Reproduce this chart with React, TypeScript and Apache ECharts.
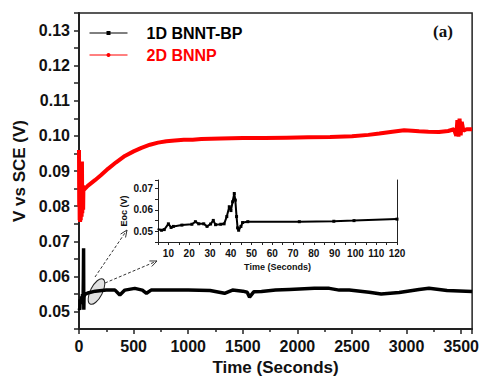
import React, { useEffect, useRef } from "react";
import * as echarts from "echarts";

// Main chart: 1D BNNT-BP (black)
const blackTimes = [0, 3, 6, 8, 10, 12, 15, 20, 23, 26, 29, 32, 35, 38, 40, 42, 43, 44, 46, 50, 80, 150, 250, 330, 374, 420, 511, 580, 618, 660, 800, 1000, 1200, 1333, 1406, 1500, 1540, 1562, 1600, 1671, 1800, 1927, 2155, 2292, 2383, 2475, 2657, 2767, 2932, 3114, 3205, 3370, 3600];
const blackValues = [0.051, 0.0508, 0.0505, 0.051, 0.0535, 0.0522, 0.0525, 0.053, 0.0543, 0.0535, 0.0524, 0.055, 0.053, 0.0545, 0.0595, 0.068, 0.057, 0.0505, 0.054, 0.0548, 0.0553, 0.0558, 0.0561, 0.0561, 0.0547, 0.0561, 0.0566, 0.0561, 0.0552, 0.0561, 0.0561, 0.0561, 0.056, 0.0552, 0.0561, 0.0558, 0.0555, 0.0541, 0.0556, 0.0557, 0.0561, 0.0563, 0.0566, 0.0566, 0.0561, 0.0561, 0.0555, 0.055, 0.0554, 0.0563, 0.0566, 0.056, 0.0557];

// Main chart: 2D BNNP (red)
const redTimes = [0, 2, 4, 6, 8, 10, 13, 16, 20, 24, 27, 30, 34, 38, 40, 80, 146, 200, 268, 340, 420, 500, 572, 650, 724, 800, 877, 960, 1041, 1120, 1300, 1500, 1700, 1900, 2100, 2300, 2500, 2650, 2750, 2870, 2977, 3050, 3114, 3200, 3297, 3380, 3434, 3455, 3465, 3475, 3485, 3495, 3505, 3520, 3550, 3600];
const redValues = [0.096, 0.08, 0.092, 0.076, 0.09, 0.0755, 0.088, 0.076, 0.092, 0.077, 0.0927, 0.078, 0.086, 0.079, 0.0845, 0.0858, 0.0874, 0.0888, 0.0907, 0.0925, 0.0943, 0.0956, 0.0966, 0.0975, 0.0981, 0.0985, 0.0987, 0.0989, 0.0989, 0.0991, 0.0993, 0.0994, 0.0994, 0.0995, 0.0996, 0.0997, 0.0999, 0.1003, 0.1007, 0.1012, 0.1016, 0.1015, 0.1013, 0.1012, 0.1011, 0.1014, 0.1019, 0.1, 0.1045, 0.0998, 0.1049, 0.1002, 0.104, 0.1015, 0.1019, 0.1019];

// Inset: first 120 seconds of 1D BNNT-BP
const insetTimes = [4.8, 6.7, 8, 10, 11.3, 12.4, 16.5, 21.3, 23, 24.6, 27, 28.6, 30.3, 31.6, 32.7, 35.2, 36.8, 38.1, 39.3, 40.1, 40.9, 41.7, 42.2, 42.8, 43.3, 43.8, 44.9, 45.7, 48.2, 73, 89.6, 99.3, 120];
const insetValues = [0.0511, 0.0505, 0.0508, 0.0535, 0.0518, 0.0523, 0.0529, 0.0533, 0.0545, 0.0535, 0.0535, 0.0523, 0.0534, 0.0551, 0.0531, 0.0533, 0.0535, 0.0569, 0.0615, 0.0597, 0.0638, 0.0677, 0.0646, 0.0569, 0.0516, 0.0505, 0.0523, 0.0541, 0.0545, 0.0545, 0.0547, 0.055, 0.0557];

const seriesNames = ["1D BNNT-BP", "2D BNNP"];
const seriesColors = ["#000000", "#ff0000"];

const FONT = "'Liberation Sans', Arial, sans-serif";

const zip = (xs: number[], ys: number[]) => xs.map((x, i) => [x, ys[i]]);

export default function App() {
  const ref = useRef<HTMLDivElement>(null);
  useEffect(() => {
    if (!ref.current) return;
    const chart = echarts.init(ref.current, undefined, { renderer: "svg" });
    const bold = { fontFamily: FONT, fontWeight: "bold" as const, color: "#111" };
    chart.setOption({
      animation: false,
      backgroundColor: "#fff",
      grid: [
        { left: 79, right: 9, top: 13, bottom: 49, show: true, borderColor: "#222", borderWidth: 1.5, backgroundColor: "transparent" },
        { left: 158, top: 180, width: 239, height: 62 },
      ],
      legend: {
        orient: "vertical",
        left: 84,
        top: 20,
        itemWidth: 38,
        itemHeight: 5,
        itemGap: 6,
        lineStyle: { width: 1 },
        textStyle: { fontFamily: FONT, fontWeight: "bold", fontSize: 16, padding: [0, 0, 0, 14] },
        data: [
          { name: seriesNames[0], textStyle: { color: seriesColors[0] } },
          { name: seriesNames[1], textStyle: { color: seriesColors[1] } },
        ],
      },
      xAxis: [
        {
          gridIndex: 0, type: "value", min: 0, max: 3600, interval: 500,
          name: "Time (Seconds)", nameLocation: "middle", nameGap: 29,
          nameTextStyle: { ...bold, fontSize: 17 },
          axisLine: { lineStyle: { color: "#222", width: 2 } },
          axisTick: { show: true, length: 5, lineStyle: { color: "#222", width: 1.5 } },
          minorTick: { show: true, splitNumber: 2, length: 3, lineStyle: { color: "#222", width: 1.5 } },
          axisLabel: { ...bold, fontSize: 16, margin: 9, formatter: (v: number) => String(v) },
          splitLine: { show: false },
        },
        {
          gridIndex: 1, type: "value", min: 5, max: 120, interval: 5,
          name: "Time (Seconds)", nameLocation: "middle", nameGap: 20,
          nameTextStyle: { ...bold, fontSize: 9 },
          axisLine: { lineStyle: { color: "#222", width: 1 } },
          axisTick: { show: true, length: 3, lineStyle: { color: "#222" } },
          axisLabel: { ...bold, fontSize: 10, margin: 6, formatter: (v: number) => (Math.round(v) % 10 === 0 ? String(Math.round(v)) : "") },
          splitLine: { show: false },
        },
      ],
      yAxis: [
        {
          gridIndex: 0, type: "value", min: 0.045, max: 0.135, interval: 0.005,
          name: "V vs SCE (V)", nameLocation: "middle", nameGap: 48,
          nameTextStyle: { ...bold, fontSize: 17 },
          axisLine: { lineStyle: { color: "#222", width: 2 } },
          axisTick: { show: true, length: 5, lineStyle: { color: "#222", width: 1.5 } },
          axisLabel: {
            ...bold, fontSize: 16, margin: 9,
            formatter: (v: number) => (Math.round(v * 1000) % 10 === 0 ? v.toFixed(2) : ""),
          },
          splitLine: { show: false },
        },
        {
          gridIndex: 1, type: "value", min: 0.045, max: 0.074, interval: 0.005,
          name: "Eoc (V)", nameLocation: "middle", nameGap: 30,
          nameTextStyle: { ...bold, fontSize: 9 },
          axisLine: { lineStyle: { color: "#222", width: 1 } },
          axisTick: { show: true, length: 3, lineStyle: { color: "#222" } },
          axisLabel: {
            ...bold, fontSize: 10, margin: 5,
            formatter: (v: number) => (Math.round(v * 1000) % 10 === 0 ? v.toFixed(2) : ""),
          },
          splitLine: { show: false },
        },
        {
          gridIndex: 1, type: "value", min: 0.045, max: 0.074, position: "right",
          axisLine: { show: true, lineStyle: { color: "#222", width: 1 } },
          axisTick: { show: false }, axisLabel: { show: false }, splitLine: { show: false },
        },
      ],
      series: [
        {
          name: seriesNames[0], type: "line", xAxisIndex: 0, yAxisIndex: 0,
          data: zip(blackTimes, blackValues), symbol: "rect", symbolSize: 5, showSymbol: false,
          itemStyle: { color: seriesColors[0] }, lineStyle: { color: seriesColors[0], width: 3.5 },
        },
        {
          name: seriesNames[1], type: "line", xAxisIndex: 0, yAxisIndex: 0,
          data: zip(redTimes, redValues), symbol: "circle", symbolSize: 4, showSymbol: false,
          itemStyle: { color: seriesColors[1] }, lineStyle: { color: seriesColors[1], width: 4 },
        },
        {
          name: "inset", type: "line", xAxisIndex: 1, yAxisIndex: 2,
          data: zip(insetTimes, insetValues), symbol: "rect", symbolSize: 3, showSymbol: true,
          itemStyle: { color: "#000" }, lineStyle: { color: "#000", width: 2 },
        },
      ],
      graphic: [
        { type: "text", left: 433, top: 23, style: { text: "(a)", font: "bold 17px 'Liberation Serif', 'Times New Roman', serif", fill: "#111" } },
        {
          type: "ellipse", x: 96.5, y: 291.5, rotation: -0.47,
          shape: { cx: 0, cy: 0, rx: 6, ry: 14 },
          style: { fill: "rgba(200,200,200,0.55)", stroke: "#222", lineWidth: 1 },
        },
        { type: "line", shape: { x1: 95, y1: 277, x2: 127, y2: 230 }, style: { stroke: "#333", lineWidth: 1, lineDash: [3, 2] } },
        { type: "polyline", shape: { points: [[125.55, 237.47], [127, 230], [120.59, 234.09]] }, style: { stroke: "#333", lineWidth: 1, fill: "none" } },
        { type: "line", shape: { x1: 105, y1: 283, x2: 157, y2: 261 }, style: { stroke: "#333", lineWidth: 1, lineDash: [3, 2] } },
        { type: "polyline", shape: { points: [[151.72, 266.48], [157, 261], [149.38, 260.96]] }, style: { stroke: "#333", lineWidth: 1, fill: "none" } },
      ],
    });
    return () => chart.dispose();
  }, []);
  return <div ref={ref} style={{ position: "fixed", left: 0, top: 0, width: 482, height: 381 }} />;
}
